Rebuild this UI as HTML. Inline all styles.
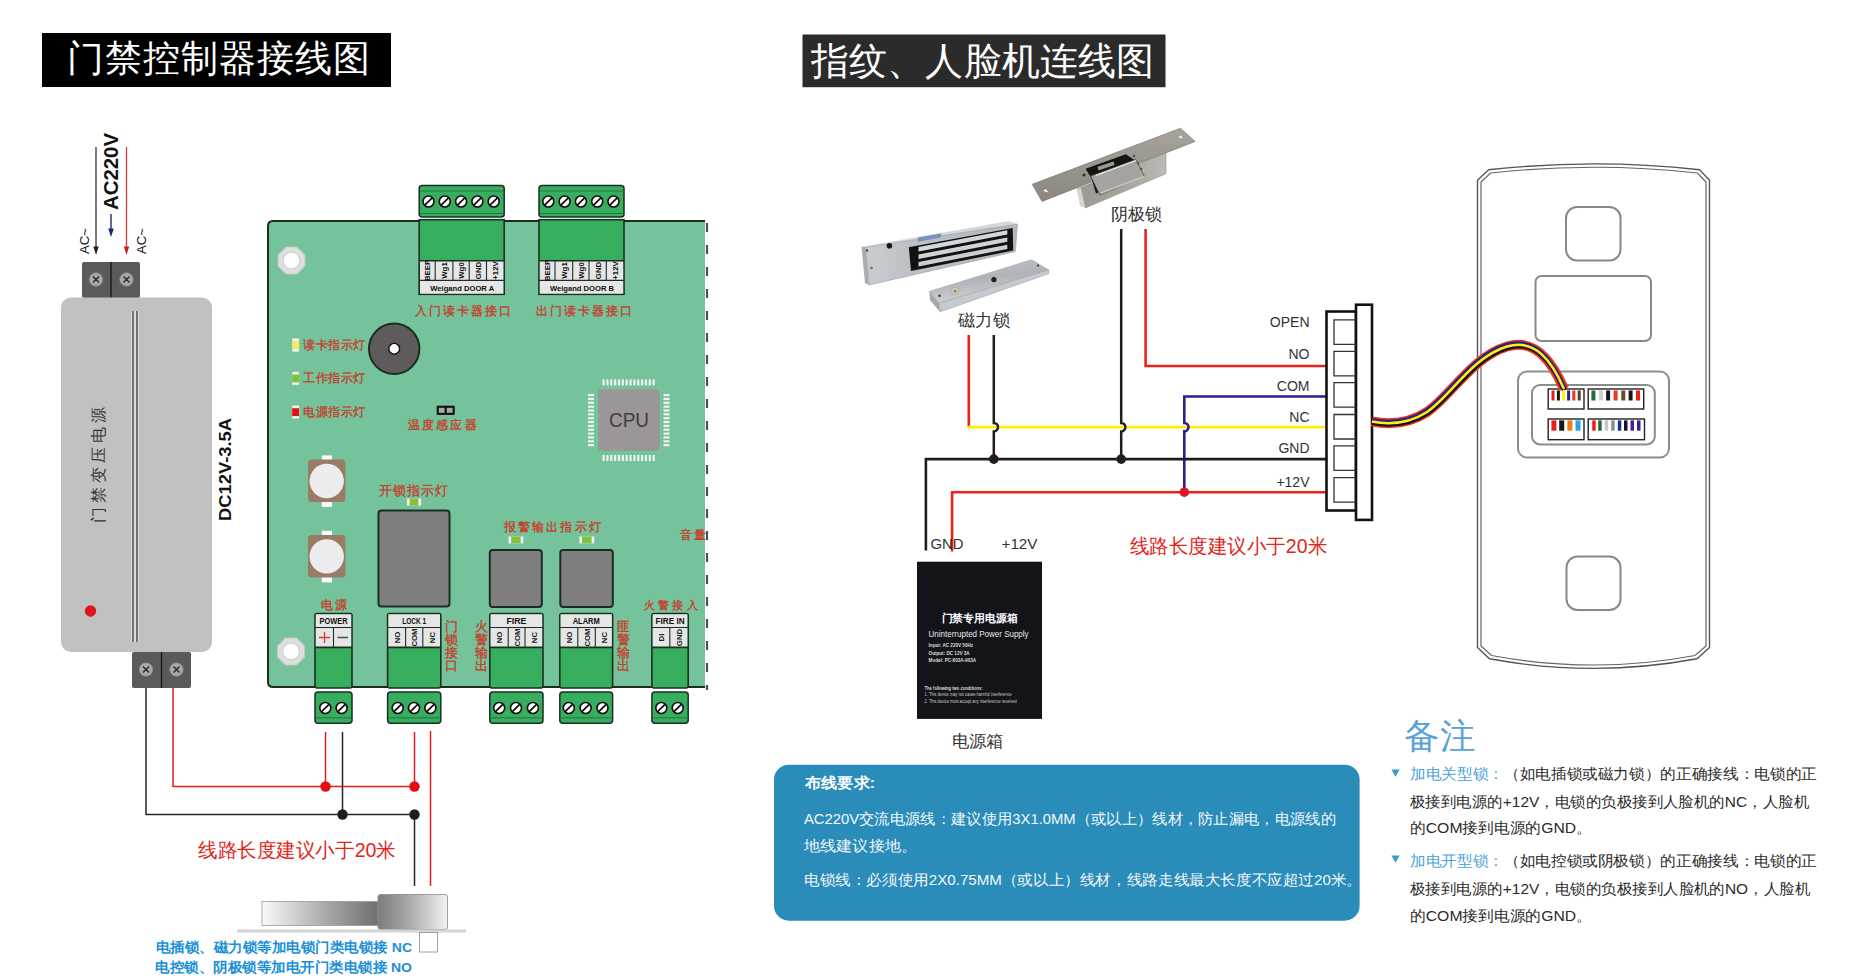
<!DOCTYPE html><html><head><meta charset="utf-8"><style>html,body{margin:0;padding:0;background:#fff;width:1858px;height:980px;overflow:hidden}svg{display:block}</style></head><body>
<svg width="1858" height="980" viewBox="0 0 1858 980">
<rect width="1858" height="980" fill="#fff"/>
<rect x="42" y="33" width="349" height="54" fill="#000"/>
<text x="67" y="71" font-size="37" fill="#fff" text-anchor="start" font-weight="normal" font-family="'Liberation Sans', sans-serif" textLength="303" lengthAdjust="spacing" >门禁控制器接线图</text>
<line x1="96" y1="147" x2="96" y2="248" stroke="#333" stroke-width="1.3"/>
<path d="M93.3 246.5 L96 255 L98.7 246.5 Z" fill="#222"/>
<line x1="126.5" y1="147" x2="126.5" y2="248" stroke="#d23a3a" stroke-width="1.3"/>
<path d="M123.8 246.5 L126.5 255 L129.2 246.5 Z" fill="#c81e1e"/>
<line x1="111" y1="214" x2="111" y2="230" stroke="#1d2a6a" stroke-width="1.4"/>
<path d="M108.2 228.5 L111 237 L113.8 228.5 Z" fill="#1d2a6a"/>
<text x="118" y="210" font-size="21" fill="#111" text-anchor="start" font-weight="bold" font-family="'Liberation Sans', sans-serif" textLength="77" lengthAdjust="spacingAndGlyphs" transform="rotate(-90 118 210)" >AC220V</text>
<text x="89" y="254" font-size="13" fill="#111" text-anchor="start" font-weight="normal" font-family="'Liberation Sans', sans-serif" textLength="26" lengthAdjust="spacingAndGlyphs" transform="rotate(-90 89 254)" >AC~</text>
<text x="146" y="254" font-size="13" fill="#111" text-anchor="start" font-weight="normal" font-family="'Liberation Sans', sans-serif" textLength="26" lengthAdjust="spacingAndGlyphs" transform="rotate(-90 146 254)" >AC~</text>
<rect x="82" y="262" width="58" height="36" rx="2" fill="#5b5959"/>
<line x1="111" y1="262" x2="111" y2="298" stroke="#1a1a1a" stroke-width="1.4"/>
<circle cx="96" cy="279.5" r="6.7" fill="#aaa8a8" stroke="#8a8888" stroke-width="0.8"/>
<path d="M92.985 276.485L99.015 282.515M92.985 282.515L99.015 276.485" stroke="#222" stroke-width="1.3"/>
<circle cx="126.5" cy="279.5" r="6.7" fill="#aaa8a8" stroke="#8a8888" stroke-width="0.8"/>
<path d="M123.485 276.485L129.515 282.515M123.485 282.515L129.515 276.485" stroke="#222" stroke-width="1.3"/>
<rect x="61" y="297.5" width="151" height="354.5" rx="10" fill="#c1c1c1"/>
<rect x="131" y="311" width="8" height="331" fill="#dcdcdc"/>
<line x1="133" y1="311" x2="133" y2="642" stroke="#3a3a3a" stroke-width="1.3"/>
<line x1="137" y1="311" x2="137" y2="642" stroke="#3a3a3a" stroke-width="1.3"/>
<circle cx="90.5" cy="611" r="5.7" fill="#e0141c"/>
<text x="103.5" y="522.5" font-size="16" fill="#333" text-anchor="start" font-weight="normal" font-family="'Liberation Sans', sans-serif" textLength="116" lengthAdjust="spacing" transform="rotate(-90 103.5 522.5)" >门禁变压电源</text>
<text x="231" y="521" font-size="16" fill="#111" text-anchor="start" font-weight="bold" font-family="'Liberation Sans', sans-serif" textLength="103" lengthAdjust="spacingAndGlyphs" transform="rotate(-90 231 521)" >DC12V-3.5A</text>
<rect x="132" y="652" width="59" height="36" rx="2" fill="#5b5959"/>
<line x1="161.5" y1="652" x2="161.5" y2="688" stroke="#1a1a1a" stroke-width="1.4"/>
<circle cx="146" cy="669.5" r="6.7" fill="#aaa8a8" stroke="#8a8888" stroke-width="0.8"/>
<path d="M142.985 666.485L149.015 672.515M142.985 672.515L149.015 666.485" stroke="#222" stroke-width="1.3"/>
<circle cx="176.5" cy="669.5" r="6.7" fill="#aaa8a8" stroke="#8a8888" stroke-width="0.8"/>
<path d="M173.485 666.485L179.515 672.515M173.485 672.515L179.515 666.485" stroke="#222" stroke-width="1.3"/>
<path d="M146 688 V814.5 H414.5" fill="none" stroke="#2a2424" stroke-width="1.5"/>
<path d="M173 688 V786.5 H414.5" fill="none" stroke="#e31b1b" stroke-width="1.5"/>
<line x1="325.5" y1="732" x2="325.5" y2="786.5" stroke="#e31b1b" stroke-width="1.5"/>
<line x1="414.5" y1="732" x2="414.5" y2="786.5" stroke="#e31b1b" stroke-width="1.5"/>
<line x1="342.5" y1="732" x2="342.5" y2="814.5" stroke="#2a2424" stroke-width="1.5"/>
<line x1="414.5" y1="814.5" x2="414.5" y2="886" stroke="#2a2424" stroke-width="1.5"/>
<line x1="430.5" y1="731" x2="430.5" y2="886" stroke="#e31b1b" stroke-width="1.5"/>
<circle cx="325.5" cy="786.5" r="5.2" fill="#e50c14"/>
<circle cx="414.5" cy="786.5" r="5.2" fill="#e50c14"/>
<circle cx="342.5" cy="814.5" r="5.2" fill="#221c1c"/>
<circle cx="414.5" cy="814.5" r="5.2" fill="#221c1c"/>
<text x="198" y="857" font-size="20" fill="#e3241b" text-anchor="start" font-weight="normal" font-family="'Liberation Sans', sans-serif" textLength="198" lengthAdjust="spacingAndGlyphs" >线路长度建议小于20米</text>
<defs><linearGradient id="lk1" x1="0" x2="1"><stop offset="0" stop-color="#fafafa"/><stop offset="0.55" stop-color="#a9a9a9"/><stop offset="1" stop-color="#6f6f6f"/></linearGradient><linearGradient id="lk2" x1="0" x2="1"><stop offset="0" stop-color="#7c7c7c"/><stop offset="0.5" stop-color="#b0b0b0"/><stop offset="1" stop-color="#f2f2f2"/></linearGradient></defs>
<rect x="262" y="901.5" width="116" height="24" fill="url(#lk1)" stroke="#9a9a9a" stroke-width="0.8"/>
<rect x="378" y="894.5" width="69.5" height="35" rx="2.5" fill="url(#lk2)" stroke="#8a8a8a" stroke-width="0.8"/>
<rect x="237" y="929.5" width="229" height="3" fill="#d4d4d4"/>
<rect x="419.5" y="932.5" width="18" height="19.5" fill="#fff" stroke="#a0a0a0" stroke-width="1"/>
<text x="156" y="952" font-size="13.5" fill="#1a8fd6" text-anchor="start" font-weight="bold" font-family="'Liberation Sans', sans-serif" textLength="256" lengthAdjust="spacingAndGlyphs" >电插锁、磁力锁等加电锁门类电锁接 NC</text>
<text x="155" y="972" font-size="13.5" fill="#1a8fd6" text-anchor="start" font-weight="bold" font-family="'Liberation Sans', sans-serif" textLength="257" lengthAdjust="spacingAndGlyphs" >电控锁、阴极锁等加电开门类电锁接 NO</text>
<path d="M705 221 H273 Q268 221 268 226 V682 Q268 687 273 687 H705 Z" fill="#74c39b"/>
<path d="M705 221 H273 Q268 221 268 226 V682 Q268 687 273 687 H705" fill="none" stroke="#1c2e24" stroke-width="2"/>
<line x1="707" y1="223" x2="707" y2="690" stroke="#505050" stroke-width="2.2" stroke-dasharray="9 13"/>
<polygon points="306.0,260.5 301.8,270.8 291.5,275.0 281.2,270.8 277.0,260.5 281.2,250.2 291.5,246.0 301.8,250.2" fill="#dedede" stroke="#c8c8c8" stroke-width="1" transform="rotate(22.5 291.5 260.5)"/>
<circle cx="291.5" cy="260.5" r="8.3" fill="#fff" stroke="#b8c8c0" stroke-width="0.8"/>
<polygon points="305.5,651.5 301.3,661.8 291.0,666.0 280.7,661.8 276.5,651.5 280.7,641.2 291.0,637.0 301.3,641.2" fill="#dedede" stroke="#c8c8c8" stroke-width="1" transform="rotate(22.5 291 651.5)"/>
<circle cx="291" cy="651.5" r="8.3" fill="#fff" stroke="#b8c8c0" stroke-width="0.8"/>
<rect x="419.2" y="185.5" width="85" height="31.5" rx="3" fill="#37ad5e" stroke="#1c2e24" stroke-width="1.5"/>
<line x1="420.2" y1="191" x2="503.2" y2="191" stroke="#227a3e" stroke-width="1"/>
<line x1="420.2" y1="213.5" x2="503.2" y2="213.5" stroke="#227a3e" stroke-width="1"/>
<circle cx="428.5" cy="201.5" r="5.5" fill="#fff" stroke="#111" stroke-width="1.6"/>
<line x1="424.54" y1="205.46" x2="432.46" y2="197.54" stroke="#111" stroke-width="1.8"/>
<circle cx="444.8" cy="201.5" r="5.5" fill="#fff" stroke="#111" stroke-width="1.6"/>
<line x1="440.84000000000003" y1="205.46" x2="448.76" y2="197.54" stroke="#111" stroke-width="1.8"/>
<circle cx="461.1" cy="201.5" r="5.5" fill="#fff" stroke="#111" stroke-width="1.6"/>
<line x1="457.14000000000004" y1="205.46" x2="465.06" y2="197.54" stroke="#111" stroke-width="1.8"/>
<circle cx="477.4" cy="201.5" r="5.5" fill="#fff" stroke="#111" stroke-width="1.6"/>
<line x1="473.44" y1="205.46" x2="481.35999999999996" y2="197.54" stroke="#111" stroke-width="1.8"/>
<circle cx="493.7" cy="201.5" r="5.5" fill="#fff" stroke="#111" stroke-width="1.6"/>
<line x1="489.74" y1="205.46" x2="497.65999999999997" y2="197.54" stroke="#111" stroke-width="1.8"/>
<rect x="419.2" y="219.7" width="85" height="74.6" fill="#37ad5e" stroke="#1c2e24" stroke-width="1.6"/>
<rect x="420.0" y="260.7" width="83.4" height="33" fill="#e6e6e6"/>
<line x1="419.2" y1="260.7" x2="504.2" y2="260.7" stroke="#1c2e24" stroke-width="1.4"/>
<line x1="419.2" y1="280.3" x2="504.2" y2="280.3" stroke="#1c2e24" stroke-width="1.2"/>
<line x1="435.2" y1="260.7" x2="435.2" y2="280.3" stroke="#1c2e24" stroke-width="1.1"/>
<line x1="452.9" y1="260.7" x2="452.9" y2="280.3" stroke="#1c2e24" stroke-width="1.1"/>
<line x1="469.2" y1="260.7" x2="469.2" y2="280.3" stroke="#1c2e24" stroke-width="1.1"/>
<line x1="486.5" y1="260.7" x2="486.5" y2="280.3" stroke="#1c2e24" stroke-width="1.1"/>
<text x="430.2" y="270.5" font-size="7.8" fill="#111" text-anchor="middle" font-weight="bold" font-family="'Liberation Sans', sans-serif" transform="rotate(-90 430.2 270.5)" >BEEP</text>
<text x="447.05" y="270.5" font-size="7.8" fill="#111" text-anchor="middle" font-weight="bold" font-family="'Liberation Sans', sans-serif" transform="rotate(-90 447.05 270.5)" >Wg1</text>
<text x="464.04999999999995" y="270.5" font-size="7.8" fill="#111" text-anchor="middle" font-weight="bold" font-family="'Liberation Sans', sans-serif" transform="rotate(-90 464.04999999999995 270.5)" >Wg0</text>
<text x="480.84999999999997" y="270.5" font-size="7.8" fill="#111" text-anchor="middle" font-weight="bold" font-family="'Liberation Sans', sans-serif" transform="rotate(-90 480.84999999999997 270.5)" >GND</text>
<text x="498.35" y="270.5" font-size="7.8" fill="#111" text-anchor="middle" font-weight="bold" font-family="'Liberation Sans', sans-serif" transform="rotate(-90 498.35 270.5)" >+12V</text>
<text x="462.2" y="290.5" font-size="7.6" fill="#111" text-anchor="middle" font-weight="bold" font-family="'Liberation Sans', sans-serif" textLength="64" lengthAdjust="spacing" >Weigand  DOOR  A</text>
<rect x="539" y="185.5" width="85" height="31.5" rx="3" fill="#37ad5e" stroke="#1c2e24" stroke-width="1.5"/>
<line x1="540" y1="191" x2="623" y2="191" stroke="#227a3e" stroke-width="1"/>
<line x1="540" y1="213.5" x2="623" y2="213.5" stroke="#227a3e" stroke-width="1"/>
<circle cx="548.3" cy="201.5" r="5.5" fill="#fff" stroke="#111" stroke-width="1.6"/>
<line x1="544.3399999999999" y1="205.46" x2="552.26" y2="197.54" stroke="#111" stroke-width="1.8"/>
<circle cx="564.5999999999999" cy="201.5" r="5.5" fill="#fff" stroke="#111" stroke-width="1.6"/>
<line x1="560.6399999999999" y1="205.46" x2="568.56" y2="197.54" stroke="#111" stroke-width="1.8"/>
<circle cx="580.9" cy="201.5" r="5.5" fill="#fff" stroke="#111" stroke-width="1.6"/>
<line x1="576.9399999999999" y1="205.46" x2="584.86" y2="197.54" stroke="#111" stroke-width="1.8"/>
<circle cx="597.1999999999999" cy="201.5" r="5.5" fill="#fff" stroke="#111" stroke-width="1.6"/>
<line x1="593.2399999999999" y1="205.46" x2="601.16" y2="197.54" stroke="#111" stroke-width="1.8"/>
<circle cx="613.5" cy="201.5" r="5.5" fill="#fff" stroke="#111" stroke-width="1.6"/>
<line x1="609.54" y1="205.46" x2="617.46" y2="197.54" stroke="#111" stroke-width="1.8"/>
<rect x="539" y="219.7" width="85" height="74.6" fill="#37ad5e" stroke="#1c2e24" stroke-width="1.6"/>
<rect x="539.8" y="260.7" width="83.4" height="33" fill="#e6e6e6"/>
<line x1="539" y1="260.7" x2="624" y2="260.7" stroke="#1c2e24" stroke-width="1.4"/>
<line x1="539" y1="280.3" x2="624" y2="280.3" stroke="#1c2e24" stroke-width="1.2"/>
<line x1="555" y1="260.7" x2="555" y2="280.3" stroke="#1c2e24" stroke-width="1.1"/>
<line x1="572.7" y1="260.7" x2="572.7" y2="280.3" stroke="#1c2e24" stroke-width="1.1"/>
<line x1="589" y1="260.7" x2="589" y2="280.3" stroke="#1c2e24" stroke-width="1.1"/>
<line x1="606.3" y1="260.7" x2="606.3" y2="280.3" stroke="#1c2e24" stroke-width="1.1"/>
<text x="550.0" y="270.5" font-size="7.8" fill="#111" text-anchor="middle" font-weight="bold" font-family="'Liberation Sans', sans-serif" transform="rotate(-90 550.0 270.5)" >BEEP</text>
<text x="566.85" y="270.5" font-size="7.8" fill="#111" text-anchor="middle" font-weight="bold" font-family="'Liberation Sans', sans-serif" transform="rotate(-90 566.85 270.5)" >Wg1</text>
<text x="583.85" y="270.5" font-size="7.8" fill="#111" text-anchor="middle" font-weight="bold" font-family="'Liberation Sans', sans-serif" transform="rotate(-90 583.85 270.5)" >Wg0</text>
<text x="600.65" y="270.5" font-size="7.8" fill="#111" text-anchor="middle" font-weight="bold" font-family="'Liberation Sans', sans-serif" transform="rotate(-90 600.65 270.5)" >GND</text>
<text x="618.15" y="270.5" font-size="7.8" fill="#111" text-anchor="middle" font-weight="bold" font-family="'Liberation Sans', sans-serif" transform="rotate(-90 618.15 270.5)" >+12V</text>
<text x="582.0" y="290.5" font-size="7.6" fill="#111" text-anchor="middle" font-weight="bold" font-family="'Liberation Sans', sans-serif" textLength="64" lengthAdjust="spacing" >Weigand  DOOR  B</text>
<text x="415" y="315.4" font-size="12.4" fill="#c5402e" text-anchor="start" font-weight="normal" font-family="'Liberation Serif', serif" textLength="96" lengthAdjust="spacing" stroke="#c5402e" stroke-width="0.35">入门读卡器接口</text>
<text x="535.5" y="315.4" font-size="12.4" fill="#c5402e" text-anchor="start" font-weight="normal" font-family="'Liberation Serif', serif" textLength="96" lengthAdjust="spacing" stroke="#c5402e" stroke-width="0.35">出门读卡器接口</text>
<rect x="292.2" y="338.4" width="6.8" height="13.400000000000034" fill="#f4f4f4" stroke="#bcd" stroke-width="0.5"/>
<rect x="292.2" y="340.9" width="6.8" height="8.400000000000034" fill="#f3e86c"/>
<rect x="292.2" y="372" width="6.8" height="12.899999999999977" fill="#f4f4f4" stroke="#bcd" stroke-width="0.5"/>
<rect x="292.2" y="374.5" width="6.8" height="7.899999999999977" fill="#7dc13a"/>
<rect x="292.2" y="405.7" width="6.8" height="12.900000000000034" fill="#f4f4f4" stroke="#bcd" stroke-width="0.5"/>
<rect x="292.2" y="408.2" width="6.8" height="7.900000000000034" fill="#e01212"/>
<text x="303.3" y="348.6" font-size="11.6" fill="#c5402e" text-anchor="start" font-weight="normal" font-family="'Liberation Serif', serif" textLength="62" lengthAdjust="spacing" stroke="#c5402e" stroke-width="0.35">读卡指示灯</text>
<text x="303.3" y="382.2" font-size="11.6" fill="#c5402e" text-anchor="start" font-weight="normal" font-family="'Liberation Serif', serif" textLength="62" lengthAdjust="spacing" stroke="#c5402e" stroke-width="0.35">工作指示灯</text>
<text x="303.3" y="415.7" font-size="11.6" fill="#c5402e" text-anchor="start" font-weight="normal" font-family="'Liberation Serif', serif" textLength="62" lengthAdjust="spacing" stroke="#c5402e" stroke-width="0.35">电源指示灯</text>
<circle cx="394.2" cy="348.8" r="25.2" fill="#5f5b5b" stroke="#1c2e24" stroke-width="2"/>
<circle cx="394.2" cy="348.8" r="5.4" fill="#fff" stroke="#111" stroke-width="1.4"/>
<rect x="436.7" y="405.7" width="18" height="9.2" fill="#111"/>
<rect x="438.8" y="407.8" width="5.8" height="5" fill="#a8a8a8"/><rect x="446.8" y="407.8" width="5.8" height="5" fill="#a8a8a8"/>
<text x="408" y="428.7" font-size="12.2" fill="#c5402e" text-anchor="start" font-weight="normal" font-family="'Liberation Serif', serif" textLength="68.5" lengthAdjust="spacing" stroke="#c5402e" stroke-width="0.35">温度感应器</text>
<rect x="602.50" y="379.4" width="2.2" height="6" fill="#eef3ef"/>
<rect x="602.50" y="455" width="2.2" height="6" fill="#eef3ef"/>
<rect x="588" y="394.00" width="6" height="2.2" fill="#eef3ef"/>
<rect x="663.5" y="394.00" width="6" height="2.2" fill="#eef3ef"/>
<rect x="606.35" y="379.4" width="2.2" height="6" fill="#eef3ef"/>
<rect x="606.35" y="455" width="2.2" height="6" fill="#eef3ef"/>
<rect x="588" y="397.85" width="6" height="2.2" fill="#eef3ef"/>
<rect x="663.5" y="397.85" width="6" height="2.2" fill="#eef3ef"/>
<rect x="610.20" y="379.4" width="2.2" height="6" fill="#eef3ef"/>
<rect x="610.20" y="455" width="2.2" height="6" fill="#eef3ef"/>
<rect x="588" y="401.70" width="6" height="2.2" fill="#eef3ef"/>
<rect x="663.5" y="401.70" width="6" height="2.2" fill="#eef3ef"/>
<rect x="614.05" y="379.4" width="2.2" height="6" fill="#eef3ef"/>
<rect x="614.05" y="455" width="2.2" height="6" fill="#eef3ef"/>
<rect x="588" y="405.55" width="6" height="2.2" fill="#eef3ef"/>
<rect x="663.5" y="405.55" width="6" height="2.2" fill="#eef3ef"/>
<rect x="617.90" y="379.4" width="2.2" height="6" fill="#eef3ef"/>
<rect x="617.90" y="455" width="2.2" height="6" fill="#eef3ef"/>
<rect x="588" y="409.40" width="6" height="2.2" fill="#eef3ef"/>
<rect x="663.5" y="409.40" width="6" height="2.2" fill="#eef3ef"/>
<rect x="621.75" y="379.4" width="2.2" height="6" fill="#eef3ef"/>
<rect x="621.75" y="455" width="2.2" height="6" fill="#eef3ef"/>
<rect x="588" y="413.25" width="6" height="2.2" fill="#eef3ef"/>
<rect x="663.5" y="413.25" width="6" height="2.2" fill="#eef3ef"/>
<rect x="625.60" y="379.4" width="2.2" height="6" fill="#eef3ef"/>
<rect x="625.60" y="455" width="2.2" height="6" fill="#eef3ef"/>
<rect x="588" y="417.10" width="6" height="2.2" fill="#eef3ef"/>
<rect x="663.5" y="417.10" width="6" height="2.2" fill="#eef3ef"/>
<rect x="629.45" y="379.4" width="2.2" height="6" fill="#eef3ef"/>
<rect x="629.45" y="455" width="2.2" height="6" fill="#eef3ef"/>
<rect x="588" y="420.95" width="6" height="2.2" fill="#eef3ef"/>
<rect x="663.5" y="420.95" width="6" height="2.2" fill="#eef3ef"/>
<rect x="633.30" y="379.4" width="2.2" height="6" fill="#eef3ef"/>
<rect x="633.30" y="455" width="2.2" height="6" fill="#eef3ef"/>
<rect x="588" y="424.80" width="6" height="2.2" fill="#eef3ef"/>
<rect x="663.5" y="424.80" width="6" height="2.2" fill="#eef3ef"/>
<rect x="637.15" y="379.4" width="2.2" height="6" fill="#eef3ef"/>
<rect x="637.15" y="455" width="2.2" height="6" fill="#eef3ef"/>
<rect x="588" y="428.65" width="6" height="2.2" fill="#eef3ef"/>
<rect x="663.5" y="428.65" width="6" height="2.2" fill="#eef3ef"/>
<rect x="641.00" y="379.4" width="2.2" height="6" fill="#eef3ef"/>
<rect x="641.00" y="455" width="2.2" height="6" fill="#eef3ef"/>
<rect x="588" y="432.50" width="6" height="2.2" fill="#eef3ef"/>
<rect x="663.5" y="432.50" width="6" height="2.2" fill="#eef3ef"/>
<rect x="644.85" y="379.4" width="2.2" height="6" fill="#eef3ef"/>
<rect x="644.85" y="455" width="2.2" height="6" fill="#eef3ef"/>
<rect x="588" y="436.35" width="6" height="2.2" fill="#eef3ef"/>
<rect x="663.5" y="436.35" width="6" height="2.2" fill="#eef3ef"/>
<rect x="648.70" y="379.4" width="2.2" height="6" fill="#eef3ef"/>
<rect x="648.70" y="455" width="2.2" height="6" fill="#eef3ef"/>
<rect x="588" y="440.20" width="6" height="2.2" fill="#eef3ef"/>
<rect x="663.5" y="440.20" width="6" height="2.2" fill="#eef3ef"/>
<rect x="652.55" y="379.4" width="2.2" height="6" fill="#eef3ef"/>
<rect x="652.55" y="455" width="2.2" height="6" fill="#eef3ef"/>
<rect x="588" y="444.05" width="6" height="2.2" fill="#eef3ef"/>
<rect x="663.5" y="444.05" width="6" height="2.2" fill="#eef3ef"/>
<rect x="598.2" y="389.2" width="61.6" height="61.6" rx="4" fill="#9b9697"/>
<text x="629" y="427" font-size="19.5" fill="#3f3f3f" text-anchor="middle" font-weight="normal" font-family="'Liberation Sans', sans-serif" textLength="40" lengthAdjust="spacingAndGlyphs" >CPU</text>
<rect x="321.8" y="455.4" width="10.2" height="6" fill="#fafafa"/>
<rect x="321.8" y="501" width="10.2" height="6" fill="#fafafa"/>
<rect x="308" y="459.5" width="37.4" height="42.5" rx="3.5" fill="#9a7b66"/>
<circle cx="326.7" cy="481" r="17.2" fill="#ececec"/>
<rect x="321.8" y="530.8" width="10.2" height="6" fill="#fafafa"/>
<rect x="321.8" y="576.4" width="10.2" height="6" fill="#fafafa"/>
<rect x="308" y="534.9" width="37.4" height="42.5" rx="3.5" fill="#9a7b66"/>
<circle cx="326.7" cy="556.4" r="17.2" fill="#ececec"/>
<text x="378.5" y="494.5" font-size="12.8" fill="#c5402e" text-anchor="start" font-weight="normal" font-family="'Liberation Serif', serif" textLength="69" lengthAdjust="spacing" stroke="#c5402e" stroke-width="0.35">开锁指示灯</text>
<rect x="407" y="498.7" width="14" height="6.8" fill="#f4f4f4" stroke="#bcd" stroke-width="0.5"/>
<rect x="409.5" y="498.7" width="9" height="6.8" fill="#82c436"/>
<rect x="378.5" y="510.5" width="71.0" height="96.0" rx="3" fill="#7f7f7f" stroke="#1c2e24" stroke-width="2"/>
<rect x="489.8" y="550" width="51.99999999999994" height="57" rx="3" fill="#7f7f7f" stroke="#1c2e24" stroke-width="2"/>
<rect x="560.3" y="550" width="52.5" height="57" rx="3" fill="#7f7f7f" stroke="#1c2e24" stroke-width="2"/>
<text x="503.7" y="530.6" font-size="12.4" fill="#c5402e" text-anchor="start" font-weight="normal" font-family="'Liberation Serif', serif" textLength="97" lengthAdjust="spacing" stroke="#c5402e" stroke-width="0.35">报警输出指示灯</text>
<rect x="508.6" y="536.5" width="14.6" height="6.7" fill="#f4f4f4" stroke="#bcd" stroke-width="0.5"/>
<rect x="511.1" y="536.5" width="9.6" height="6.7" fill="#82c436"/>
<rect x="579.5" y="536.5" width="14.6" height="6.7" fill="#f4f4f4" stroke="#bcd" stroke-width="0.5"/>
<rect x="582.0" y="536.5" width="9.6" height="6.7" fill="#82c436"/>
<text x="680" y="539.3" font-size="12" fill="#c5402e" text-anchor="start" font-weight="normal" font-family="'Liberation Serif', serif" textLength="26" lengthAdjust="spacing" stroke="#c5402e" stroke-width="0.35">音量</text>
<rect x="315" y="613.5" width="37" height="74.5" rx="2" fill="#37ad5e" stroke="#1c2e24" stroke-width="1.6"/>
<rect x="315.8" y="614.3" width="35.4" height="33" fill="#e6e6e6"/>
<line x1="315" y1="627.5" x2="352" y2="627.5" stroke="#1c2e24" stroke-width="1.2"/>
<line x1="315" y1="647.4" x2="352" y2="647.4" stroke="#1c2e24" stroke-width="1.6"/>
<line x1="333.5" y1="627.5" x2="333.5" y2="647.4" stroke="#1c2e24" stroke-width="1.1"/>
<text x="333.5" y="623.8" font-size="8.2" fill="#111" text-anchor="middle" font-weight="bold" font-family="'Liberation Sans', sans-serif" textLength="28" lengthAdjust="spacingAndGlyphs" >POWER</text>
<rect x="315" y="692" width="37" height="31.3" rx="3" fill="#37ad5e" stroke="#1c2e24" stroke-width="1.5"/>
<line x1="316" y1="717.8" x2="351" y2="717.8" stroke="#227a3e" stroke-width="1"/>
<circle cx="325.3" cy="708" r="5.5" fill="#fff" stroke="#111" stroke-width="1.6"/>
<line x1="321.34000000000003" y1="711.96" x2="329.26" y2="704.04" stroke="#111" stroke-width="1.8"/>
<circle cx="341.6" cy="708" r="5.5" fill="#fff" stroke="#111" stroke-width="1.6"/>
<line x1="337.64000000000004" y1="711.96" x2="345.56" y2="704.04" stroke="#111" stroke-width="1.8"/>
<path d="M319 637.5 H330 M324.5 632 V643" stroke="#d63a3a" stroke-width="1.3"/>
<path d="M337.5 637.5 H348" stroke="#555" stroke-width="1.6"/>
<rect x="387.6" y="613.5" width="53.19999999999999" height="74.5" rx="2" fill="#37ad5e" stroke="#1c2e24" stroke-width="1.6"/>
<rect x="388.40000000000003" y="614.3" width="51.59999999999999" height="33" fill="#e6e6e6"/>
<line x1="387.6" y1="627.5" x2="440.8" y2="627.5" stroke="#1c2e24" stroke-width="1.2"/>
<line x1="387.6" y1="647.4" x2="440.8" y2="647.4" stroke="#1c2e24" stroke-width="1.6"/>
<line x1="405.6" y1="627.5" x2="405.6" y2="647.4" stroke="#1c2e24" stroke-width="1.1"/>
<line x1="422.8" y1="627.5" x2="422.8" y2="647.4" stroke="#1c2e24" stroke-width="1.1"/>
<text x="414.20000000000005" y="623.8" font-size="8.2" fill="#111" text-anchor="middle" font-weight="bold" font-family="'Liberation Sans', sans-serif" textLength="24" lengthAdjust="spacingAndGlyphs" >LOCK 1</text>
<text x="399.6" y="637.5" font-size="7.8" fill="#222" text-anchor="middle" font-weight="bold" font-family="'Liberation Sans', sans-serif" transform="rotate(-90 399.6 637.5)" >NO</text>
<text x="417.20000000000005" y="637.5" font-size="7.8" fill="#222" text-anchor="middle" font-weight="bold" font-family="'Liberation Sans', sans-serif" transform="rotate(-90 417.20000000000005 637.5)" >COM</text>
<text x="434.8" y="637.5" font-size="7.8" fill="#222" text-anchor="middle" font-weight="bold" font-family="'Liberation Sans', sans-serif" transform="rotate(-90 434.8 637.5)" >NC</text>
<rect x="387.6" y="692" width="53.19999999999999" height="31.3" rx="3" fill="#37ad5e" stroke="#1c2e24" stroke-width="1.5"/>
<line x1="388.6" y1="717.8" x2="439.8" y2="717.8" stroke="#227a3e" stroke-width="1"/>
<circle cx="397.7" cy="708" r="5.5" fill="#fff" stroke="#111" stroke-width="1.6"/>
<line x1="393.74" y1="711.96" x2="401.65999999999997" y2="704.04" stroke="#111" stroke-width="1.8"/>
<circle cx="414" cy="708" r="5.5" fill="#fff" stroke="#111" stroke-width="1.6"/>
<line x1="410.04" y1="711.96" x2="417.96" y2="704.04" stroke="#111" stroke-width="1.8"/>
<circle cx="430.4" cy="708" r="5.5" fill="#fff" stroke="#111" stroke-width="1.6"/>
<line x1="426.44" y1="711.96" x2="434.35999999999996" y2="704.04" stroke="#111" stroke-width="1.8"/>
<rect x="489.8" y="613.5" width="53.19999999999999" height="74.5" rx="2" fill="#37ad5e" stroke="#1c2e24" stroke-width="1.6"/>
<rect x="490.6" y="614.3" width="51.59999999999999" height="33" fill="#e6e6e6"/>
<line x1="489.8" y1="627.5" x2="543" y2="627.5" stroke="#1c2e24" stroke-width="1.2"/>
<line x1="489.8" y1="647.4" x2="543" y2="647.4" stroke="#1c2e24" stroke-width="1.6"/>
<line x1="508.2" y1="627.5" x2="508.2" y2="647.4" stroke="#1c2e24" stroke-width="1.1"/>
<line x1="525" y1="627.5" x2="525" y2="647.4" stroke="#1c2e24" stroke-width="1.1"/>
<text x="516.4" y="623.8" font-size="8.2" fill="#111" text-anchor="middle" font-weight="bold" font-family="'Liberation Sans', sans-serif" textLength="20" lengthAdjust="spacingAndGlyphs" >FIRE</text>
<text x="502.0" y="637.5" font-size="7.8" fill="#222" text-anchor="middle" font-weight="bold" font-family="'Liberation Sans', sans-serif" transform="rotate(-90 502.0 637.5)" >NO</text>
<text x="519.6" y="637.5" font-size="7.8" fill="#222" text-anchor="middle" font-weight="bold" font-family="'Liberation Sans', sans-serif" transform="rotate(-90 519.6 637.5)" >COM</text>
<text x="537.0" y="637.5" font-size="7.8" fill="#222" text-anchor="middle" font-weight="bold" font-family="'Liberation Sans', sans-serif" transform="rotate(-90 537.0 637.5)" >NC</text>
<rect x="489.8" y="692" width="53.19999999999999" height="31.3" rx="3" fill="#37ad5e" stroke="#1c2e24" stroke-width="1.5"/>
<line x1="490.8" y1="717.8" x2="542" y2="717.8" stroke="#227a3e" stroke-width="1"/>
<circle cx="499.2" cy="708" r="5.5" fill="#fff" stroke="#111" stroke-width="1.6"/>
<line x1="495.24" y1="711.96" x2="503.15999999999997" y2="704.04" stroke="#111" stroke-width="1.8"/>
<circle cx="516" cy="708" r="5.5" fill="#fff" stroke="#111" stroke-width="1.6"/>
<line x1="512.04" y1="711.96" x2="519.96" y2="704.04" stroke="#111" stroke-width="1.8"/>
<circle cx="532.9" cy="708" r="5.5" fill="#fff" stroke="#111" stroke-width="1.6"/>
<line x1="528.9399999999999" y1="711.96" x2="536.86" y2="704.04" stroke="#111" stroke-width="1.8"/>
<rect x="559.8" y="613.5" width="52.80000000000007" height="74.5" rx="2" fill="#37ad5e" stroke="#1c2e24" stroke-width="1.6"/>
<rect x="560.5999999999999" y="614.3" width="51.20000000000007" height="33" fill="#e6e6e6"/>
<line x1="559.8" y1="627.5" x2="612.6" y2="627.5" stroke="#1c2e24" stroke-width="1.2"/>
<line x1="559.8" y1="647.4" x2="612.6" y2="647.4" stroke="#1c2e24" stroke-width="1.6"/>
<line x1="577.8" y1="627.5" x2="577.8" y2="647.4" stroke="#1c2e24" stroke-width="1.1"/>
<line x1="595.3" y1="627.5" x2="595.3" y2="647.4" stroke="#1c2e24" stroke-width="1.1"/>
<text x="586.2" y="623.8" font-size="8.2" fill="#111" text-anchor="middle" font-weight="bold" font-family="'Liberation Sans', sans-serif" textLength="27" lengthAdjust="spacingAndGlyphs" >ALARM</text>
<text x="571.8" y="637.5" font-size="7.8" fill="#222" text-anchor="middle" font-weight="bold" font-family="'Liberation Sans', sans-serif" transform="rotate(-90 571.8 637.5)" >NO</text>
<text x="589.55" y="637.5" font-size="7.8" fill="#222" text-anchor="middle" font-weight="bold" font-family="'Liberation Sans', sans-serif" transform="rotate(-90 589.55 637.5)" >COM</text>
<text x="606.95" y="637.5" font-size="7.8" fill="#222" text-anchor="middle" font-weight="bold" font-family="'Liberation Sans', sans-serif" transform="rotate(-90 606.95 637.5)" >NC</text>
<rect x="559.8" y="692" width="52.80000000000007" height="31.3" rx="3" fill="#37ad5e" stroke="#1c2e24" stroke-width="1.5"/>
<line x1="560.8" y1="717.8" x2="611.6" y2="717.8" stroke="#227a3e" stroke-width="1"/>
<circle cx="568.8" cy="708" r="5.5" fill="#fff" stroke="#111" stroke-width="1.6"/>
<line x1="564.8399999999999" y1="711.96" x2="572.76" y2="704.04" stroke="#111" stroke-width="1.8"/>
<circle cx="585.6" cy="708" r="5.5" fill="#fff" stroke="#111" stroke-width="1.6"/>
<line x1="581.64" y1="711.96" x2="589.5600000000001" y2="704.04" stroke="#111" stroke-width="1.8"/>
<circle cx="602.5" cy="708" r="5.5" fill="#fff" stroke="#111" stroke-width="1.6"/>
<line x1="598.54" y1="711.96" x2="606.46" y2="704.04" stroke="#111" stroke-width="1.8"/>
<rect x="651.9" y="613.5" width="36.30000000000007" height="74.5" rx="2" fill="#37ad5e" stroke="#1c2e24" stroke-width="1.6"/>
<rect x="652.6999999999999" y="614.3" width="34.70000000000007" height="33" fill="#e6e6e6"/>
<line x1="651.9" y1="627.5" x2="688.2" y2="627.5" stroke="#1c2e24" stroke-width="1.2"/>
<line x1="651.9" y1="647.4" x2="688.2" y2="647.4" stroke="#1c2e24" stroke-width="1.6"/>
<line x1="669.8" y1="627.5" x2="669.8" y2="647.4" stroke="#1c2e24" stroke-width="1.1"/>
<text x="670.05" y="623.8" font-size="8.2" fill="#111" text-anchor="middle" font-weight="bold" font-family="'Liberation Sans', sans-serif" textLength="29" lengthAdjust="spacingAndGlyphs" >FIRE IN</text>
<text x="663.8499999999999" y="637.5" font-size="7.8" fill="#222" text-anchor="middle" font-weight="bold" font-family="'Liberation Sans', sans-serif" transform="rotate(-90 663.8499999999999 637.5)" >DI</text>
<text x="682.0" y="637.5" font-size="7.8" fill="#222" text-anchor="middle" font-weight="bold" font-family="'Liberation Sans', sans-serif" transform="rotate(-90 682.0 637.5)" >GND</text>
<rect x="651.9" y="692" width="36.30000000000007" height="31.3" rx="3" fill="#37ad5e" stroke="#1c2e24" stroke-width="1.5"/>
<line x1="652.9" y1="717.8" x2="687.2" y2="717.8" stroke="#227a3e" stroke-width="1"/>
<circle cx="661.3" cy="708" r="5.5" fill="#fff" stroke="#111" stroke-width="1.6"/>
<line x1="657.3399999999999" y1="711.96" x2="665.26" y2="704.04" stroke="#111" stroke-width="1.8"/>
<circle cx="677.7" cy="708" r="5.5" fill="#fff" stroke="#111" stroke-width="1.6"/>
<line x1="673.74" y1="711.96" x2="681.6600000000001" y2="704.04" stroke="#111" stroke-width="1.8"/>
<text x="321.4" y="608.7" font-size="11.6" fill="#c5402e" text-anchor="start" font-weight="normal" font-family="'Liberation Serif', serif" textLength="26" lengthAdjust="spacing" stroke="#c5402e" stroke-width="0.35">电源</text>
<text x="644" y="608.8" font-size="11.4" fill="#c5402e" text-anchor="start" font-weight="normal" font-family="'Liberation Serif', serif" textLength="53.5" lengthAdjust="spacing" stroke="#c5402e" stroke-width="0.35">火警接入</text>
<text x="444.8" y="631.0" font-size="12.5" fill="#c5402e" text-anchor="start" font-weight="normal" font-family="'Liberation Serif', serif" stroke="#c5402e" stroke-width="0.35">门</text>
<text x="444.8" y="644.1" font-size="12.5" fill="#c5402e" text-anchor="start" font-weight="normal" font-family="'Liberation Serif', serif" stroke="#c5402e" stroke-width="0.35">锁</text>
<text x="444.8" y="657.2" font-size="12.5" fill="#c5402e" text-anchor="start" font-weight="normal" font-family="'Liberation Serif', serif" stroke="#c5402e" stroke-width="0.35">接</text>
<text x="444.8" y="670.3" font-size="12.5" fill="#c5402e" text-anchor="start" font-weight="normal" font-family="'Liberation Serif', serif" stroke="#c5402e" stroke-width="0.35">口</text>
<text x="474.8" y="631.0" font-size="12.5" fill="#c5402e" text-anchor="start" font-weight="normal" font-family="'Liberation Serif', serif" stroke="#c5402e" stroke-width="0.35">火</text>
<text x="474.8" y="644.1" font-size="12.5" fill="#c5402e" text-anchor="start" font-weight="normal" font-family="'Liberation Serif', serif" stroke="#c5402e" stroke-width="0.35">警</text>
<text x="474.8" y="657.2" font-size="12.5" fill="#c5402e" text-anchor="start" font-weight="normal" font-family="'Liberation Serif', serif" stroke="#c5402e" stroke-width="0.35">输</text>
<text x="474.8" y="670.3" font-size="12.5" fill="#c5402e" text-anchor="start" font-weight="normal" font-family="'Liberation Serif', serif" stroke="#c5402e" stroke-width="0.35">出</text>
<text x="617.4" y="631.0" font-size="12.5" fill="#c5402e" text-anchor="start" font-weight="normal" font-family="'Liberation Serif', serif" stroke="#c5402e" stroke-width="0.35">匪</text>
<text x="617.4" y="644.1" font-size="12.5" fill="#c5402e" text-anchor="start" font-weight="normal" font-family="'Liberation Serif', serif" stroke="#c5402e" stroke-width="0.35">警</text>
<text x="617.4" y="657.2" font-size="12.5" fill="#c5402e" text-anchor="start" font-weight="normal" font-family="'Liberation Serif', serif" stroke="#c5402e" stroke-width="0.35">输</text>
<text x="617.4" y="670.3" font-size="12.5" fill="#c5402e" text-anchor="start" font-weight="normal" font-family="'Liberation Serif', serif" stroke="#c5402e" stroke-width="0.35">出</text>
<rect x="802.5" y="34.5" width="363" height="52.7" fill="#2b2b2b"/>
<text x="811" y="73.7" font-size="37.5" fill="#fff" text-anchor="start" font-weight="normal" font-family="'Liberation Sans', sans-serif" textLength="343" lengthAdjust="spacing" >指纹、人脸机连线图</text>
<defs><linearGradient id="mg1" x1="0" y1="0" x2="0" y2="1"><stop offset="0" stop-color="#e2e4e8"/><stop offset="1" stop-color="#b4b8bd"/></linearGradient><linearGradient id="mg2" x1="0" y1="0" x2="0" y2="1"><stop offset="0" stop-color="#f3f4f6"/><stop offset="0.5" stop-color="#c9ccd1"/><stop offset="1" stop-color="#9ea2a8"/></linearGradient><linearGradient id="st1" x1="0" y1="0" x2="0" y2="1"><stop offset="0" stop-color="#a9a49e"/><stop offset="1" stop-color="#8b8680"/></linearGradient></defs>
<defs><linearGradient id="mgf" x1="0" y1="0" x2="1" y2="0"><stop offset="0" stop-color="#c9ccd0"/><stop offset="0.3" stop-color="#bdc0c4"/><stop offset="1" stop-color="#b3b6bb"/></linearGradient><linearGradient id="arm" x1="0" y1="0" x2="0.3" y2="1"><stop offset="0" stop-color="#c3c6cb"/><stop offset="0.5" stop-color="#b0b3b8"/><stop offset="1" stop-color="#cfd2d6"/></linearGradient></defs>
<polygon points="861.5,246.8 1009,220.9 1017.5,224.1 865.8,247.3" fill="#d4d7db"/>
<polygon points="865.8,247.3 1017.5,224.1 1015.4,251.6 869,285" fill="url(#mgf)" stroke="#9a9ea3" stroke-width="0.6"/>
<polygon points="861.5,246.8 865.8,247.3 869,285 865,283" fill="#a9adb2"/>
<polygon points="908.8,247.3 1012.7,227.9 1013.2,250.5 911,271" fill="#111214"/>
<polygon points="918.5,247 1007.3,230.3 1007.3,234.6 918.5,251.5" fill="#d3d7dc"/>
<polygon points="918.5,254.5 1007.3,237.5 1007.3,241.8 918.5,259" fill="#cfd3d8"/>
<polygon points="918.5,262 1007.3,244.7 1007.3,249 918.5,266.5" fill="#cbcfd4"/>
<circle cx="889.4" cy="245.7" r="2.8" fill="#1a1a1a"/>
<polygon points="918,237.6 941,233.4 941,237.6 918,241.8" fill="#7c8fc4"/>
<circle cx="867" cy="250.5" r="1.2" fill="#444"/><circle cx="871.5" cy="268" r="1.3" fill="#7a6a4a"/>
<polygon points="929.3,291.4 1031.5,259.7 1048.8,269.9 939,303.3" fill="url(#arm)" stroke="#a0a4a9" stroke-width="0.6"/>
<polygon points="939,303.3 1048.8,269.9 1048.8,273.7 940,311.9" fill="#c6c9cd" stroke="#9ca0a6" stroke-width="0.5"/>
<polygon points="929.3,291.4 939,303.3 940,311.9 930,300" fill="#a3a7ac"/>
<circle cx="993.9" cy="279.6" r="2.6" fill="#1f1f1f"/>
<circle cx="955.1" cy="290.9" r="3.6" fill="#d8d2c2" stroke="#9a9a9a" stroke-width="0.6"/><circle cx="955.1" cy="290.9" r="1.5" fill="#8a7a5a"/>
<circle cx="939.5" cy="295.7" r="1.2" fill="#333"/><circle cx="1038" cy="265.6" r="1.1" fill="#333"/>
<text x="958" y="326" font-size="17" fill="#333" text-anchor="start" font-weight="normal" font-family="'Liberation Sans', sans-serif" textLength="52" lengthAdjust="spacingAndGlyphs" >磁力锁</text>
<defs><linearGradient id="sb1" x1="0" y1="0" x2="1" y2="0"><stop offset="0" stop-color="#9d9892"/><stop offset="0.6" stop-color="#a9a59f"/><stop offset="1" stop-color="#bdb9b4"/></linearGradient></defs>
<polygon points="1076.8,189 1166,153.4 1166,173.7 1085.2,208.1" fill="url(#sb1)" stroke="#8a857f" stroke-width="0.5"/>
<polygon points="1076.8,189 1081,188 1085.2,208.1 1080,206" fill="#d8d4cf"/>
<polygon points="1032.2,184.3 1180.4,128.3 1195.1,141.4 1042,201.4" fill="url(#st1)" stroke="#7c7771" stroke-width="0.7"/>
<polygon points="1085.6,168.7 1125.8,154.2 1138.8,163 1137.3,172.1 1096,193.6 1091.4,178.3" fill="#141414"/>
<polygon points="1097.5,166.8 1113.6,161.5 1114.5,165 1098.5,170.5" fill="#9a9a9a"/>
<polygon points="1090.6,176 1135.7,159.5 1144.2,176 1099.8,195.1" fill="#a7a39e" stroke="#3a3a3a" stroke-width="0.6"/>
<line x1="1096" y1="175.5" x2="1136" y2="160.5" stroke="#eeeeee" stroke-width="1.3"/>
<line x1="1101" y1="193" x2="1144" y2="176.5" stroke="#c9c6c2" stroke-width="1.6"/>
<circle cx="1084" cy="175" r="1.6" fill="#333"/><circle cx="1134" cy="156" r="1.3" fill="#554"/><circle cx="1141" cy="169" r="1.3" fill="#554"/>
<path d="M1043 191 l3 -2 l2.5 3.5 z" fill="#f5f5f5"/><path d="M1178 137 l3.5 -1.5 l1 3.5 z" fill="#f5f5f5"/>
<text x="1111" y="220" font-size="17" fill="#333" text-anchor="start" font-weight="normal" font-family="'Liberation Sans', sans-serif" textLength="51" lengthAdjust="spacingAndGlyphs" >阴极锁</text>
<path d="M968.8 335 V427.2" stroke="#e8231b" stroke-width="2.6" fill="none"/>
<line x1="967.5" y1="427.2" x2="1326.5" y2="427.2" stroke="#fff200" stroke-width="2.8"/>
<path d="M993.8 335 V423.0 A4.2 4.2 0 0 1 993.8 431.4 V459.1" stroke="#231c1c" stroke-width="2.5" fill="none"/>
<path d="M1121.2 229 V423.0 A4.2 4.2 0 0 1 1121.2 431.4 V459.1" stroke="#231c1c" stroke-width="2.5" fill="none"/>
<path d="M1145.6 229 V366 H1326.5" stroke="#e8231b" stroke-width="2.6" fill="none"/>
<path d="M1326.5 396.5 H1184.3 V423.0 A4.2 4.2 0 0 1 1184.3 431.4 V492.2" stroke="#2e1d8c" stroke-width="2.6" fill="none"/>
<path d="M1326.5 459.1 H925.9 V550.5" stroke="#231c1c" stroke-width="2.6" fill="none"/>
<path d="M1326.5 492.2 H952.1 V551.5" stroke="#e8231b" stroke-width="2.6" fill="none"/>
<circle cx="993.8" cy="459.1" r="4.8" fill="#231c1c"/><circle cx="1121.2" cy="459.1" r="4.8" fill="#231c1c"/>
<circle cx="1184.3" cy="492.2" r="4.8" fill="#e5102a"/>
<text x="930.5" y="548.5" font-size="14" fill="#333" text-anchor="start" font-weight="normal" font-family="'Liberation Sans', sans-serif" textLength="33" lengthAdjust="spacingAndGlyphs" >GND</text>
<text x="1001.5" y="548.5" font-size="14" fill="#333" text-anchor="start" font-weight="normal" font-family="'Liberation Sans', sans-serif" textLength="36" lengthAdjust="spacingAndGlyphs" >+12V</text>
<text x="1130" y="553" font-size="20" fill="#e3241b" text-anchor="start" font-weight="normal" font-family="'Liberation Sans', sans-serif" textLength="197" lengthAdjust="spacingAndGlyphs" >线路长度建议小于20米</text>
<rect x="1326.5" y="311.5" width="29.5" height="199" fill="#fff" stroke="#111" stroke-width="2.6"/>
<rect x="1356" y="304.7" width="16" height="215.2" fill="#fff" stroke="#111" stroke-width="2.6"/>
<path d="M1356 319.9 H1334 V344.4 H1356" fill="none" stroke="#333" stroke-width="1.3"/>
<path d="M1356 351.3 H1334 V375.8 H1356" fill="none" stroke="#333" stroke-width="1.3"/>
<path d="M1356 382.6 H1334 V407.1 H1356" fill="none" stroke="#333" stroke-width="1.3"/>
<path d="M1356 414.5 H1334 V439.0 H1356" fill="none" stroke="#333" stroke-width="1.3"/>
<path d="M1356 445.9 H1334 V470.4 H1356" fill="none" stroke="#333" stroke-width="1.3"/>
<path d="M1356 477.7 H1334 V502.2 H1356" fill="none" stroke="#333" stroke-width="1.3"/>
<text x="1309.5" y="326.8" font-size="14" fill="#333" text-anchor="end" font-weight="normal" font-family="'Liberation Sans', sans-serif" >OPEN</text>
<text x="1309.5" y="359.4" font-size="14" fill="#333" text-anchor="end" font-weight="normal" font-family="'Liberation Sans', sans-serif" >NO</text>
<text x="1309.5" y="390.5" font-size="14" fill="#333" text-anchor="end" font-weight="normal" font-family="'Liberation Sans', sans-serif" >COM</text>
<text x="1309.5" y="421.8" font-size="14" fill="#333" text-anchor="end" font-weight="normal" font-family="'Liberation Sans', sans-serif" >NC</text>
<text x="1309.5" y="453" font-size="14" fill="#333" text-anchor="end" font-weight="normal" font-family="'Liberation Sans', sans-serif" >GND</text>
<text x="1309.5" y="487.3" font-size="14" fill="#333" text-anchor="end" font-weight="normal" font-family="'Liberation Sans', sans-serif" >+12V</text>
<path d="M1477.5 180.3 L1488.5 169.8 Q1594 158 1699.7 169.8 L1709.5 180.3 V647.5 L1697 658.8 Q1594 678 1489.5 658.8 L1477.5 647.5 Z" fill="none" stroke="#555" stroke-width="1.4"/>
<path d="M1481 182 L1490.5 173 Q1594 161.5 1697.5 173 L1706 182 V646 L1695 655.5 Q1594 674.5 1491.5 655.5 L1481 646 Z" fill="none" stroke="#666" stroke-width="1.2"/>
<rect x="1566" y="207" width="54.5" height="53.5" rx="11" fill="none" stroke="#888" stroke-width="2"/>
<rect x="1535.5" y="276" width="115.5" height="65" rx="6" fill="none" stroke="#888" stroke-width="2"/>
<rect x="1566.5" y="556.5" width="54" height="53.5" rx="11" fill="none" stroke="#888" stroke-width="2"/>
<rect x="1518" y="371.5" width="151" height="86" rx="9" fill="none" stroke="#8c8c8c" stroke-width="2"/>
<rect x="1532" y="385" width="122.8" height="59.4" rx="8" fill="none" stroke="#8c8c8c" stroke-width="2"/>
<rect x="1548.2" y="389" width="35.799999999999955" height="20" fill="#fff" stroke="#222" stroke-width="1.4"/>
<rect x="1551.5" y="390.5" width="3" height="10.0" fill="#e8201a"/>
<rect x="1556.9" y="390.5" width="3" height="10.0" fill="#1a1616"/>
<rect x="1562.2" y="390.5" width="3" height="10.0" fill="#fff200"/>
<rect x="1567.1" y="390.5" width="3" height="10.0" fill="#2d1e8a"/>
<rect x="1572.3" y="390.5" width="3" height="10.0" fill="#e8391a"/>
<rect x="1577.7" y="390.5" width="3" height="10.0" fill="#5a4020"/>
<rect x="1588.2" y="389" width="55.5" height="20" fill="#fff" stroke="#222" stroke-width="1.4"/>
<rect x="1591.4" y="390.5" width="4" height="10.0" fill="#1d6b3a"/>
<rect x="1598.9" y="390.5" width="4" height="10.0" fill="#cfcfcf"/>
<rect x="1606.1" y="390.5" width="4" height="10.0" fill="#1a1616"/>
<rect x="1613.6" y="390.5" width="4" height="10.0" fill="#e8391a"/>
<rect x="1621.3" y="390.5" width="4" height="10.0" fill="#6a4e2a"/>
<rect x="1628.6" y="390.5" width="4" height="10.0" fill="#1a1616"/>
<rect x="1636.0" y="390.5" width="4" height="10.0" fill="#e8201a"/>
<rect x="1548.2" y="419" width="35.799999999999955" height="20.69999999999999" fill="#fff" stroke="#222" stroke-width="1.4"/>
<rect x="1551.4" y="420.4" width="5" height="10.300000000000011" fill="#e8201a"/>
<rect x="1559.2" y="420.4" width="5" height="10.300000000000011" fill="#1a1616"/>
<rect x="1567.4" y="420.4" width="5" height="10.300000000000011" fill="#f07f10"/>
<rect x="1575.5" y="420.4" width="5" height="10.300000000000011" fill="#23a8e6"/>
<rect x="1588.2" y="419" width="56.299999999999955" height="20.69999999999999" fill="#fff" stroke="#222" stroke-width="1.4"/>
<rect x="1592.2" y="420.4" width="3.5" height="10.300000000000011" fill="#e8201a"/>
<rect x="1598.2" y="420.4" width="3.5" height="10.300000000000011" fill="#1d6b3a"/>
<rect x="1604.7" y="420.4" width="3.5" height="10.300000000000011" fill="#c8c8c8"/>
<rect x="1611.2" y="420.4" width="3.5" height="10.300000000000011" fill="#8c8c8c"/>
<rect x="1617.8" y="420.4" width="3.5" height="10.300000000000011" fill="#1f2f8c"/>
<rect x="1624.0" y="420.4" width="3.5" height="10.300000000000011" fill="#1a1616"/>
<rect x="1630.5" y="420.4" width="3.5" height="10.300000000000011" fill="#4a1f8c"/>
<rect x="1637.0" y="420.4" width="3.5" height="10.300000000000011" fill="#4a1f8c"/>
<path d="M1372 421.5 C1385 424 1407 425 1427 412 C1450 397 1472 357 1507 346.5 C1535 338 1552 361 1564 389" fill="none" stroke="#e63a1c" stroke-width="10"/>
<path d="M1372 421.5 C1385 424 1407 425 1427 412 C1450 397 1472 357 1507 346.5 C1535 338 1552 361 1564 389" fill="none" stroke="#121010" stroke-width="5.4" transform="translate(0.4 0.8)"/>
<path d="M1372 421.5 C1385 424 1407 425 1427 412 C1450 397 1472 357 1507 346.5 C1535 338 1552 361 1564 389" fill="none" stroke="#2d1e8a" stroke-width="5.4" transform="translate(-0.4 -0.8)"/>
<path d="M1372 421.5 C1385 424 1407 425 1427 412 C1450 397 1472 357 1507 346.5 C1535 338 1552 361 1564 389" fill="none" stroke="#fff200" stroke-width="2.5"/>
<rect x="917" y="561.7" width="125" height="157.2" fill="#121419"/>
<text x="979.5" y="621.5" font-size="11" fill="#fff" text-anchor="middle" font-weight="bold" font-family="'Liberation Serif', serif" textLength="76" lengthAdjust="spacingAndGlyphs" >门禁专用电源箱</text>
<text x="928.6" y="636.5" font-size="8.6" fill="#e8e8e8" text-anchor="start" font-weight="normal" font-family="'Liberation Sans', sans-serif" textLength="100" lengthAdjust="spacingAndGlyphs" >Uninterrupted Power Supply</text>
<text x="928.6" y="647.0" font-size="4.6" fill="#ddd" text-anchor="start" font-weight="bold" font-family="'Liberation Sans', sans-serif" >Input:  AC 220V 50Hz</text>
<text x="928.6" y="654.6" font-size="4.6" fill="#ddd" text-anchor="start" font-weight="bold" font-family="'Liberation Sans', sans-serif" >Output:  DC 12V 3A</text>
<text x="928.6" y="662.2" font-size="4.6" fill="#ddd" text-anchor="start" font-weight="bold" font-family="'Liberation Sans', sans-serif" >Model:  PC-803A-903A</text>
<text x="924.6" y="689.5" font-size="5.4" fill="#ddd" text-anchor="start" font-weight="bold" font-family="'Liberation Sans', sans-serif" textLength="58" lengthAdjust="spacingAndGlyphs" >The following two conditions:</text>
<text x="924.6" y="696.3" font-size="4.6" fill="#ccc" text-anchor="start" font-weight="normal" font-family="'Liberation Sans', sans-serif" textLength="87" lengthAdjust="spacingAndGlyphs" >1. This device may not cause harmful interference</text>
<text x="924.6" y="702.8" font-size="4.6" fill="#ccc" text-anchor="start" font-weight="normal" font-family="'Liberation Sans', sans-serif" textLength="92" lengthAdjust="spacingAndGlyphs" >2. This device must accept any interference received</text>
<text x="951.6" y="746.5" font-size="17" fill="#333" text-anchor="start" font-weight="normal" font-family="'Liberation Sans', sans-serif" textLength="52" lengthAdjust="spacingAndGlyphs" >电源箱</text>
<rect x="774" y="764.7" width="585.6" height="156" rx="15" fill="#2a8cb9"/>
<text x="805" y="787.7" font-size="14.5" fill="#fff" text-anchor="start" font-weight="bold" font-family="'Liberation Sans', sans-serif" textLength="70" lengthAdjust="spacingAndGlyphs" >布线要求:</text>
<text x="804" y="823.5" font-size="14.5" fill="#f4f8fb" text-anchor="start" font-weight="normal" font-family="'Liberation Sans', sans-serif" textLength="532" lengthAdjust="spacingAndGlyphs" >AC220V交流电源线：建议使用3X1.0MM（或以上）线材，防止漏电，电源线的</text>
<text x="804" y="851" font-size="14.5" fill="#f4f8fb" text-anchor="start" font-weight="normal" font-family="'Liberation Sans', sans-serif" textLength="113" lengthAdjust="spacingAndGlyphs" >地线建议接地。</text>
<text x="804" y="884.6" font-size="14.5" fill="#f4f8fb" text-anchor="start" font-weight="normal" font-family="'Liberation Sans', sans-serif" textLength="558" lengthAdjust="spacingAndGlyphs" >电锁线：必须使用2X0.75MM（或以上）线材，线路走线最大长度不应超过20米。</text>
<text x="1404" y="748" font-size="35" fill="#5aa3d6" text-anchor="start" font-weight="normal" font-family="'Liberation Sans', sans-serif" textLength="71" lengthAdjust="spacingAndGlyphs" >备注</text>
<path d="M1391.4 769.4 H1399.6 L1395.5 776.7 Z" fill="#3a9ad0"/>
<path d="M1391.4 855.5 H1399.6 L1395.5 862.8 Z" fill="#3a9ad0"/>
<text x="1410" y="779" font-size="15" font-family="'Liberation Sans', sans-serif" textLength="407" lengthAdjust="spacingAndGlyphs"><tspan fill="#4aa3d8">加电关型锁：</tspan><tspan fill="#2d2a28">（如电插锁或磁力锁）的正确接线：电锁的正</tspan></text>
<text x="1410" y="806.5" font-size="15" fill="#2d2a28" text-anchor="start" font-weight="normal" font-family="'Liberation Sans', sans-serif" textLength="399" lengthAdjust="spacingAndGlyphs" >极接到电源的+12V，电锁的负极接到人脸机的NC，人脸机</text>
<text x="1410" y="833" font-size="15" fill="#2d2a28" text-anchor="start" font-weight="normal" font-family="'Liberation Sans', sans-serif" textLength="182" lengthAdjust="spacingAndGlyphs" >的COM接到电源的GND。</text>
<text x="1410" y="865.5" font-size="15" font-family="'Liberation Sans', sans-serif" textLength="407" lengthAdjust="spacingAndGlyphs"><tspan fill="#4aa3d8">加电开型锁：</tspan><tspan fill="#2d2a28">（如电控锁或阴极锁）的正确接线：电锁的正</tspan></text>
<text x="1410" y="893.5" font-size="15" fill="#2d2a28" text-anchor="start" font-weight="normal" font-family="'Liberation Sans', sans-serif" textLength="400" lengthAdjust="spacingAndGlyphs" >极接到电源的+12V，电锁的负极接到人脸机的NO，人脸机</text>
<text x="1410" y="920.5" font-size="15" fill="#2d2a28" text-anchor="start" font-weight="normal" font-family="'Liberation Sans', sans-serif" textLength="182" lengthAdjust="spacingAndGlyphs" >的COM接到电源的GND。</text>
</svg></body></html>
